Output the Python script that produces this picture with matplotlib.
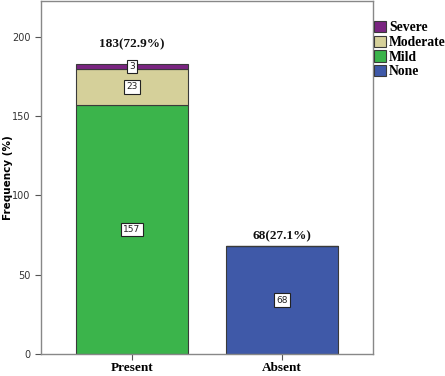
import matplotlib
matplotlib.use("Agg")
import matplotlib.pyplot as plt
from matplotlib.patches import Patch

categories = ["Present", "Absent"]
none_vals = [0, 68]
mild_vals = [157, 0]
moderate_vals = [23, 0]
severe_vals = [3, 0]
totals = [183, 68]
total_labels = ["183(72.9%)", "68(27.1%)"]
yticks = [0, 50, 100, 150, 200]

colors = {"None": "#3F59A8", "Mild": "#3BB44B", "Moderate": "#D5D09A", "Severe": "#7A2581"}
edge = "#3a3a3a"

fig = plt.figure(figsize=(4.45, 3.76), dpi=100)
ax = fig.add_axes([41/445, 22/376, 332/445, 353/376])

x = list(range(len(categories)))
w = 0.747
bottom = [0, 0]
series = [("None", none_vals), ("Mild", mild_vals), ("Moderate", moderate_vals), ("Severe", severe_vals)]
for name, vals in series:
    ax.bar(x, vals, w, bottom=bottom, color=colors[name], edgecolor=edge, linewidth=0.8)
    for i, v in enumerate(vals):
        if v > 0:
            ax.text(x[i], bottom[i] + v/2, str(v), ha="center", va="center", fontsize=6.5,
                    family="DejaVu Sans", color="#222222",
                    bbox=dict(boxstyle="square,pad=0.25", fc="white", ec="#222222", lw=0.8))
    bottom = [b + v for b, v in zip(bottom, vals)]

offsets = [12.6, 6.5]
for i, t in enumerate(totals):
    ax.text(x[i], t + offsets[i], total_labels[i], ha="center", va="center", fontsize=9.5,
            family="Liberation Serif", fontweight="bold", color="#111111")

ax.set_xlim(-0.607, 1.607)
ax.set_ylim(0, 222.7)
ax.set_xticks(x)
ax.set_xticklabels(categories, family="Liberation Serif", fontweight="bold", fontsize=9.5)
ax.set_yticks(yticks)
ax.set_yticklabels([str(v) for v in yticks], fontsize=7, family="DejaVu Sans", color="#333333")
ax.tick_params(axis="both", direction="out", length=4, color="#555555", width=0.8)
ax.tick_params(axis="x", pad=2)
ax.set_ylabel("Frequency (%)", fontsize=7.5, fontweight="bold", family="DejaVu Sans")
ax.yaxis.set_label_coords(-0.084, 0.5)
for s in ax.spines.values():
    s.set_color("#888888")
    s.set_linewidth(1.0)

handles = [Patch(facecolor=colors[n], edgecolor=edge, linewidth=0.8) for n in ["Severe", "Moderate", "Mild", "None"]]
leg = fig.legend(handles, ["Severe", "Moderate", "Mild", "None"], loc="upper left",
                 bbox_to_anchor=(374/445, 1 - 21/376), frameon=False,
                 prop=dict(family="Liberation Serif", weight="bold", size=9.8),
                 handlelength=0.9, handleheight=0.9, handletextpad=0.2, labelspacing=0.1,
                 borderpad=0.0, borderaxespad=0.0)

fig.savefig("out.png", dpi=100)
